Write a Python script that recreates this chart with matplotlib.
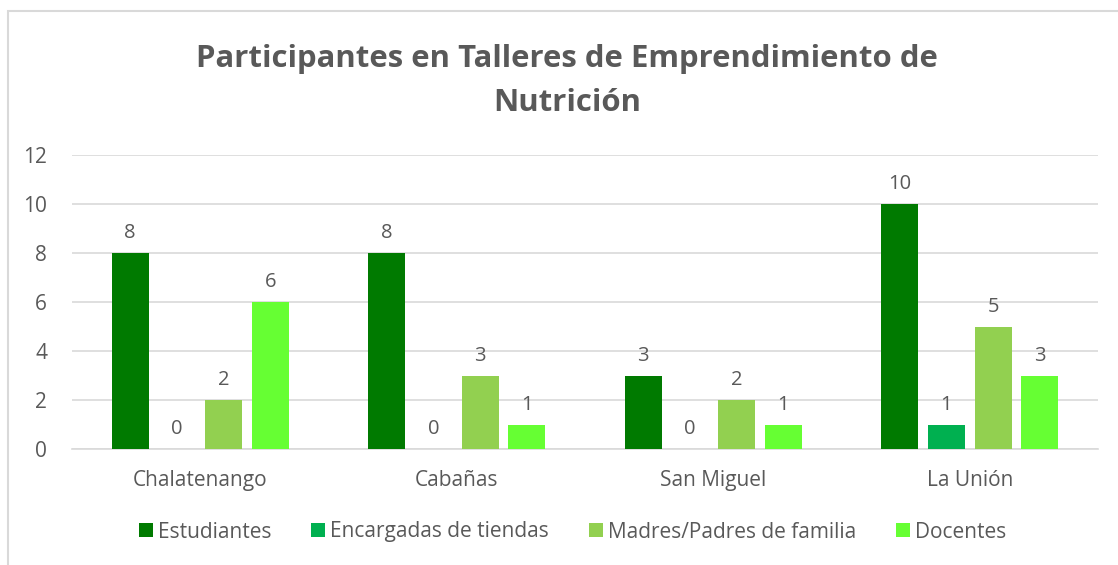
"""Participantes en Talleres de Emprendimiento de Nutrición."""
import matplotlib
matplotlib.use("Agg")
import matplotlib.pyplot as plt
import numpy as np
from matplotlib.patches import Patch, Rectangle

plt.rcParams["font.family"] = ["Open Sans", "DejaVu Sans"]

departamentos = ["Chalatenango", "Cabañas", "San Miguel", "La Unión"]
grupos = ["Estudiantes", "Encargadas de tiendas",
          "Madres/Padres de familia", "Docentes"]
estudiantes = [8, 8, 3, 10]
encargadas = [0, 0, 0, 1]
madres_padres = [2, 3, 2, 5]
docentes = [6, 1, 1, 3]
series = [estudiantes, encargadas, madres_padres, docentes]
colores = ["#007A00", "#00B050", "#92D050", "#66FF33"]
texto = "#595959"

fig = plt.figure(figsize=(11.18, 5.65), dpi=100)
ax = fig.add_axes([72 / 1118, 116 / 565, 1026 / 1118, 294 / 565])

# chart border (only left and top visible in the crop)
fig.patches.append(Rectangle((8 / 1118, -0.1), 1.2, (565 - 11) / 565 + 0.1,
                             transform=fig.transFigure, fill=False,
                             edgecolor="#D9D9D9", linewidth=1.5))

x = np.arange(len(departamentos))
width = 0.144
pitch = 0.182
for i, (vals, col, name) in enumerate(zip(series, colores, grupos)):
    pos = x + (i - 1.5) * pitch
    ax.bar(pos, vals, width=width, color=col, label=name, zorder=3)
    for xp, v in zip(pos, vals):
        ax.annotate(f"{v}", (xp, v), xytext=(0, 7), textcoords="offset points",
                    ha="center", va="bottom", fontsize=14.5, color=texto)

ax.set_xlim(-0.5, 3.5)
ax.set_ylim(0, 12)
ax.set_yticks(range(0, 13, 2))
ax.set_xticks(x)
ax.set_xticklabels(departamentos)
ax.tick_params(length=0, labelsize=15, labelcolor=texto)
ax.tick_params(axis="x", pad=15)
ax.tick_params(axis="y", pad=18)
ax.grid(axis="y", color="#D9D9D9", linewidth=1.2, zorder=0)
for s in ["top", "right", "left"]:
    ax.spines[s].set_visible(False)
ax.spines["bottom"].set_color("#D9D9D9")
ax.spines["bottom"].set_linewidth(1.2)

fig.text(567 / 1118, 1 - 81 / 565,
         "Participantes en Talleres de Emprendimiento de\nNutrición",
         ha="center", va="center", fontsize=22.4, fontweight="bold",
         color=texto, linespacing=1.65)

handles = [Patch(facecolor=c, label=g) for c, g in zip(colores, grupos)]
fig.legend(handles=handles, loc="center", bbox_to_anchor=(572.5 / 1118, 1 - 532 / 565),
           ncol=4, frameon=False, fontsize=15, labelcolor=texto,
           handlelength=0.67, handleheight=0.67, handletextpad=0.25,
           columnspacing=1.9)

fig.savefig("out.png", dpi=100)
